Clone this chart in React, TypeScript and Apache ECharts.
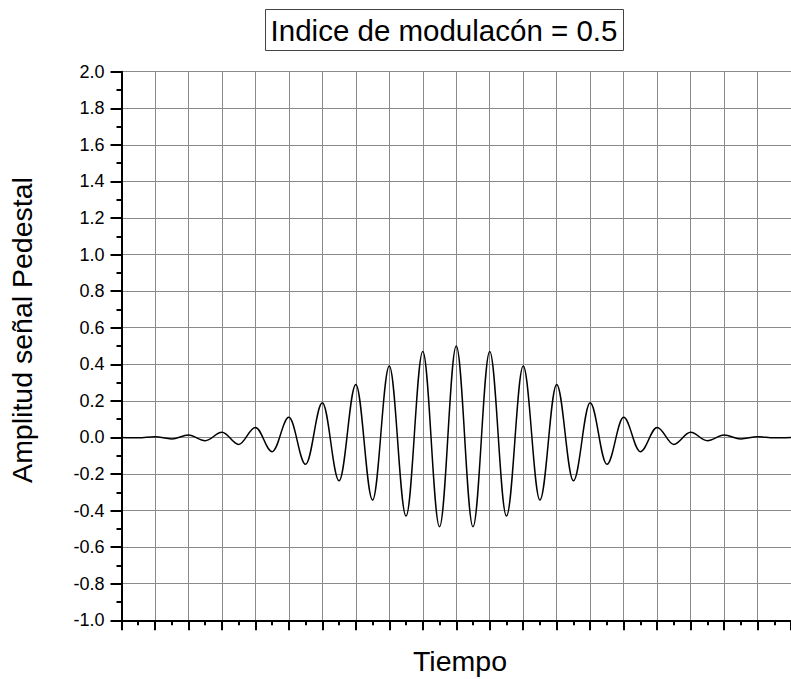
import React, { useEffect, useRef } from "react";
import * as echarts from "echarts";

// Peak values (at integer time positions 0..20)
const peakValues = [0.0, 0.004, 0.013, 0.028, 0.055, 0.11, 0.19, 0.29, 0.39, 0.47, 0.5, 0.47, 0.39, 0.29, 0.19, 0.11, 0.055, 0.028, 0.013, 0.004, 0.0];
// Trough values (at half positions 0.5..19.5)
const troughValues = [-0.002, -0.008, -0.018, -0.038, -0.078, -0.147, -0.237, -0.342, -0.43, -0.488, -0.488, -0.43, -0.342, -0.237, -0.147, -0.078, -0.038, -0.018, -0.008, -0.002];

const yTickLabels = ["-1.0", "-0.8", "-0.6", "-0.4", "-0.2", "0.0", "0.2", "0.4", "0.6", "0.8", "1.0", "1.2", "1.4", "1.6", "1.8", "2.0"];
const titleText = "Indice de modulacón = 0.5";
const xName = "Tiempo";
const yName = "Amplitud señal Pedestal";

const FONT = "'Liberation Sans', Arial, sans-serif";

function buildSeries(): number[][] {
  const pts: number[][] = [];
  for (let i = 0; i < peakValues.length; i++) {
    pts.push([i, peakValues[i]]);
    if (i < troughValues.length) {
      pts.push([i + 0.5, troughValues[i]]);
    }
  }
  return pts;
}

export default function App() {
  const ref = useRef<HTMLDivElement>(null);
  useEffect(() => {
    document.body.style.margin = "0";
    const chart = echarts.init(ref.current!, null, { renderer: "svg" });
    chart.setOption({
      animation: false,
      backgroundColor: "#ffffff",
      grid: { left: 121.5, top: 71.7, bottom: 58.7, right: -6 },
      xAxis: {
        type: "value",
        min: 0,
        max: 20,
        interval: 1,
        axisLine: { show: true, onZero: false, lineStyle: { color: "#000", width: 2 } },
        axisTick: { show: true, inside: false, length: 10, lineStyle: { color: "#000", width: 2 } },
        minorTick: { show: true, splitNumber: 2, length: 5, lineStyle: { color: "#000", width: 2 } },
        axisLabel: { show: false },
        splitLine: { show: true, lineStyle: { color: "#8a8a8a", width: 1 } },
      },
      yAxis: {
        type: "value",
        min: -1,
        max: 2,
        interval: 0.2,
        axisLine: { show: true, onZero: false, lineStyle: { color: "#000", width: 2 } },
        axisTick: { show: true, inside: false, length: 11, lineStyle: { color: "#000", width: 2 } },
        minorTick: { show: true, splitNumber: 2, length: 5, lineStyle: { color: "#000", width: 2 } },
        axisLabel: {
          show: true,
          margin: 17,
          color: "#000",
          fontSize: 18,
          fontFamily: FONT,
          formatter: (v: number) => {
            const idx = Math.round((v + 1) / 0.2);
            return yTickLabels[idx] ?? "";
          },
        },
        splitLine: { show: true, lineStyle: { color: "#8a8a8a", width: 1 } },
      },
      graphic: [
        {
          type: "rect",
          shape: { x: 265.5, y: 9.5, width: 358, height: 41 },
          style: { fill: "#fff", stroke: "#444", lineWidth: 1 },
        },
        {
          type: "text",
          x: 444,
          y: 30,
          style: {
            text: titleText,
            fontSize: 29.5,
            fontFamily: FONT,
            fill: "#000",
            align: "center",
            verticalAlign: "middle",
            textAlign: "center",
            textVerticalAlign: "middle",
          },
        },
        {
          type: "text",
          x: 460,
          y: 661,
          style: {
            text: xName,
            fontSize: 28.5,
            fontFamily: FONT,
            fill: "#000",
            align: "center",
            verticalAlign: "middle",
            textAlign: "center",
            textVerticalAlign: "middle",
          },
        },
        {
          type: "text",
          x: 22,
          y: 330,
          rotation: Math.PI / 2,
          style: {
            text: yName,
            fontSize: 28.5,
            fontFamily: FONT,
            fill: "#000",
            align: "center",
            verticalAlign: "middle",
            textAlign: "center",
            textVerticalAlign: "middle",
          },
        },
      ],
      series: [
        {
          type: "line",
          data: buildSeries(),
          showSymbol: false,
          smooth: 0.3634,
          smoothMonotone: "x",
          clip: true,
          lineStyle: { color: "#000", width: 1.5 },
        },
      ],
    });
    return () => chart.dispose();
  }, []);
  return <div ref={ref} style={{ position: "absolute", left: 0, top: 0, width: 791, height: 679 }} />;
}
